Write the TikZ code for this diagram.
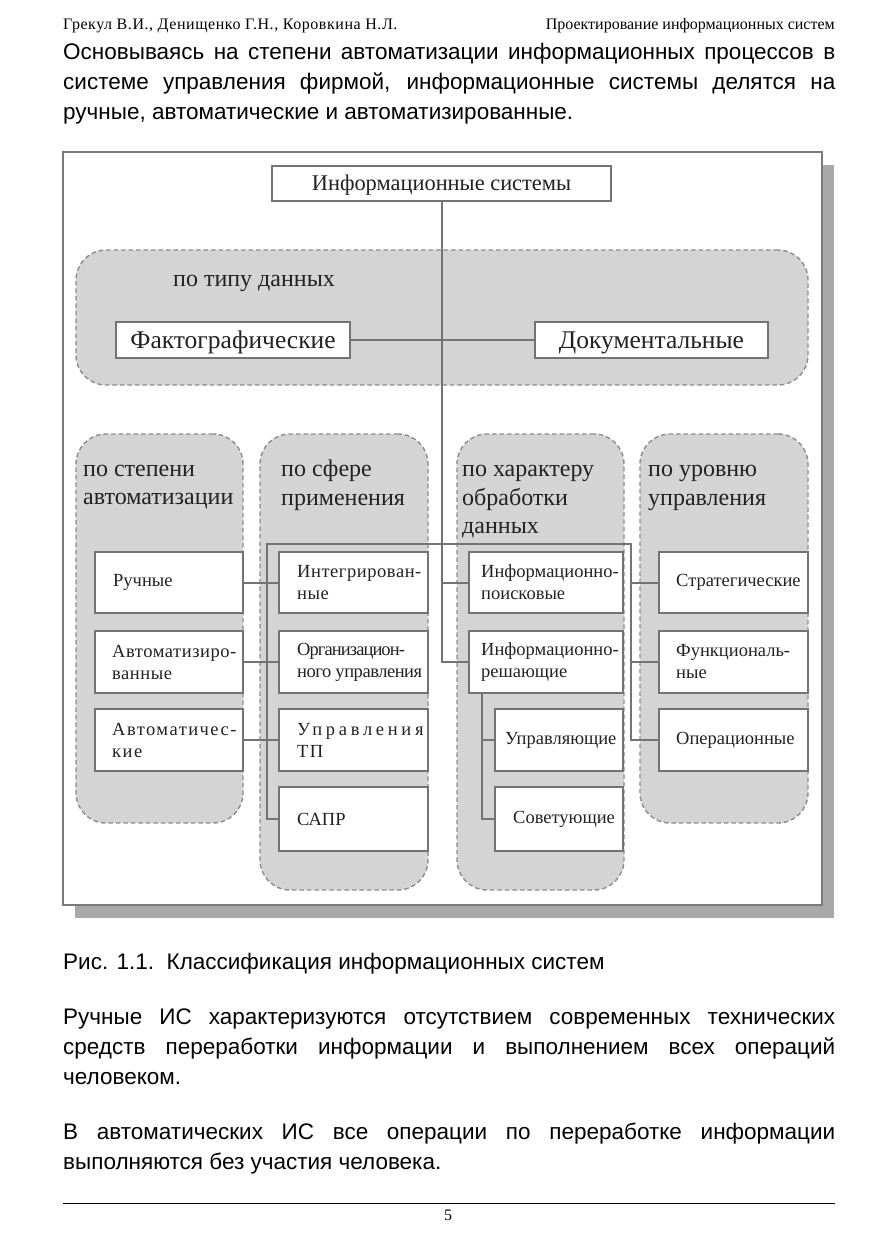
\documentclass[tikz,border=0pt]{standalone}
\usepackage{fontspec}
\setmainfont{Liberation Serif}
\newfontfamily\bodyfont{Liberation Sans}
\pgfdeclarelayer{bg}
\pgfdeclarelayer{mid}
\pgfsetlayers{bg,mid,main}
\definecolor{frm}{HTML}{7A7A7A}
\definecolor{shd}{HTML}{A8A8A8}
\definecolor{pfill}{HTML}{D4D4D4}
\definecolor{pdash}{HTML}{8C8C8C}
\definecolor{bline}{HTML}{737373}
\definecolor{txt}{HTML}{222222}
\newcommand\bxx[7]{%
  \node[box, minimum width={(#4-#2)*1pt}, minimum height={(#5-#3)*1pt}] (#1) at ({(#2+#4)/2},{(#3+#5)/2}) {};
  \node[lbl, anchor=west] (#1-t) at ([xshift=#6pt]#1.west) {#7};
}
\newcommand\pnl[5]{%
  \node[panel, minimum width={(#4-#2)*1pt}, minimum height={(#5-#3)*1pt}] (#1) at ({(#2+#4)/2},{(#3+#5)/2}) {};
}
\begin{document}
\begin{tikzpicture}[x=1pt,y=-1pt,
  box/.style={draw=bline, line width=2pt, fill=white, inner sep=0pt, outer sep=0pt},
  panel/.style={draw=pdash, line width=1.4pt, dash pattern=on 4.5pt off 3pt, fill=pfill, rounded corners=30pt, inner sep=0pt, outer sep=0pt},
  con/.style={draw=bline, line width=2pt},
  lbl/.style={inner sep=0pt, text=txt, font=\fontsize{18.5pt}{22pt}\selectfont, align=left},
  ttl/.style={inner sep=0pt, text=txt, font=\fontsize{24pt}{28.5pt}\selectfont, align=left, anchor=west},
  big/.style={inner sep=0pt, text=txt, font=\fontsize{22.4pt}{25pt}\selectfont, text height=14pt, text depth=0pt},
  bigger/.style={inner sep=0pt, text=txt, font=\fontsize{25.5pt}{28pt}\selectfont, text height=16pt, text depth=0pt},
  body/.style={inner sep=0pt, anchor=base west, font=\bodyfont\fontsize{22.5pt}{30pt}\selectfont},
  hdr/.style={inner sep=0pt, font=\fontsize{16pt}{18pt}\selectfont},
]
\begin{pgfonlayer}{bg}
\fill[white] (0,0) rectangle (877,1241);
\end{pgfonlayer}
\useasboundingbox (0,0) rectangle (877,1241);

% header and text
\node[hdr, anchor=base west] (h1) at (63,30) {\addfontfeature{LetterSpace=3.5}Грекул В.И., Денищенко Г.Н., Коровкина Н.Л.};
\node[hdr, anchor=base east] (h2) at (835,30) {Проектирование информационных систем};
\node[body] (p1a) at (63,60) {\makebox[772pt][s]{Основываясь на степени автоматизации информационных процессов в}};
\node[body] (p1b) at (63,90) {\makebox[772pt][s]{системе управления фирмой, информационные системы делятся на}};
\node[body] (p1c) at (63,120) {ручные, автоматические и автоматизированные.};

% diagram frame
\begin{pgfonlayer}{bg}
\node[fill=shd, minimum width=759pt, minimum height=753pt, inner sep=0pt, outer sep=0pt] (shadow) at (454.5,541.5) {};
\node[draw=frm, line width=2pt, fill=white, minimum width=759pt, minimum height=753pt, inner sep=0pt] (frame) at (442.5,528.5) {};
\pnl{ptype}{76}{250}{808}{385}
\pnl{pa}{76}{434}{243}{823}
\pnl{pb}{260}{434}{428}{890}
\pnl{pc}{457}{434}{624}{890}
\pnl{pd}{640}{434}{808}{823}
\node[ttl] (ttype) at (173,283) {по типу данных};
\node[ttl] (ta) at (83,487) {по степени\\автоматизации};
\node[ttl] (tb) at (281,485) {по сфере\\применения};
\node[ttl] (tc) at (462,502) {по характеру\\обработки\\данных};
\node[ttl] (td) at (648,488) {по уровню\\управления};
\end{pgfonlayer}

\node[box, big, minimum width=339pt, minimum height=35pt] (is) at (441.5,183.5) {Информационные системы};
\node[box, bigger, minimum width=234pt, minimum height=36pt] (fakt) at (233,340) {Фактографические};
\node[box, bigger, minimum width=233pt, minimum height=36pt] (dok) at (651.5,340) {Документальные};

\bxx{ruch}{95}{552}{243}{613}{18}{Ручные}
\bxx{avt}{95}{631}{243}{693}{17}{\addfontfeature{LetterSpace=3}Автоматизиро-\\\addfontfeature{LetterSpace=3}ванные}
\bxx{avtom}{95}{709}{243}{771}{17}{\addfontfeature{LetterSpace=8}Автоматичес-\\\addfontfeature{LetterSpace=8}кие}
\bxx{integ}{279}{552}{428}{613}{18}{\addfontfeature{LetterSpace=3}Интегрирован-\\\addfontfeature{LetterSpace=3}ные}
\bxx{org}{279}{631}{428}{693}{18}{\addfontfeature{LetterSpace=-5}Организацион-\\\addfontfeature{LetterSpace=-2.5}ного управления}
\bxx{utp}{279}{709}{428}{771}{18}{\addfontfeature{LetterSpace=20}Управления\\\addfontfeature{LetterSpace=8}ТП}
\bxx{sapr}{279}{787}{428}{851}{18}{САПР}
\bxx{ip}{469}{552}{623}{613}{12}{Информационно-\\поисковые}
\bxx{ir}{469}{631}{623}{693}{12}{Информационно-\\решающие}
\bxx{upr}{495}{709}{623}{771}{10}{Управляющие}
\bxx{sov}{495}{787}{623}{851}{18}{Советующие}
\bxx{strat}{659}{552}{808}{613}{17}{Стратегические}
\bxx{funk}{659}{631}{808}{693}{17}{Функциональ-\\ные}
\bxx{oper}{659}{709}{808}{771}{17}{Операционные}

\begin{pgfonlayer}{mid}
\coordinate (busL) at (267,544);
\coordinate (busR) at (631,544);
\draw[con] (is.south) |- (ir.west);
\draw[con] (fakt.east) -- (dok.west);
\draw[con] (is.south |- ip.west) -- (ip.west);
\draw[con] (sapr.west) -| (busL) -- (busR) |- (oper.west);
\draw[con] (ruch.east) -- (integ.west);
\draw[con] (avt.east) -- (org.west);
\draw[con] (avtom.east) -- (utp.west);
\draw[con] (busR |- strat.west) -- (strat.west);
\draw[con] (busR |- funk.west) -- (funk.west);
\coordinate (irb) at ([xshift=13pt]ir.south west);
\draw[con] (irb) |- (sov.west);
\draw[con] (irb |- upr.west) -- (upr.west);
\end{pgfonlayer}

% caption and text
\node[body] (cap) at (63,969) {Рис. 1.1.\ \ Классификация информационных систем};
\node[body] (p2a) at (63,1024) {\makebox[772pt][s]{Ручные ИС характеризуются отсутствием современных технических}};
\node[body] (p2b) at (63,1054) {\makebox[772pt][s]{средств переработки информации и выполнением всех операций}};
\node[body] (p2c) at (63,1084) {человеком.};
\node[body] (p3a) at (63,1139) {\makebox[772pt][s]{В автоматических ИС все операции по переработке информации}};
\node[body] (p3b) at (63,1169) {выполняются без участия человека.};
\draw[line width=0.8pt] (63,1203) -- (835,1203);
\node[hdr, anchor=base] (pg) at (448,1220) {5};
\end{tikzpicture}
\end{document}
